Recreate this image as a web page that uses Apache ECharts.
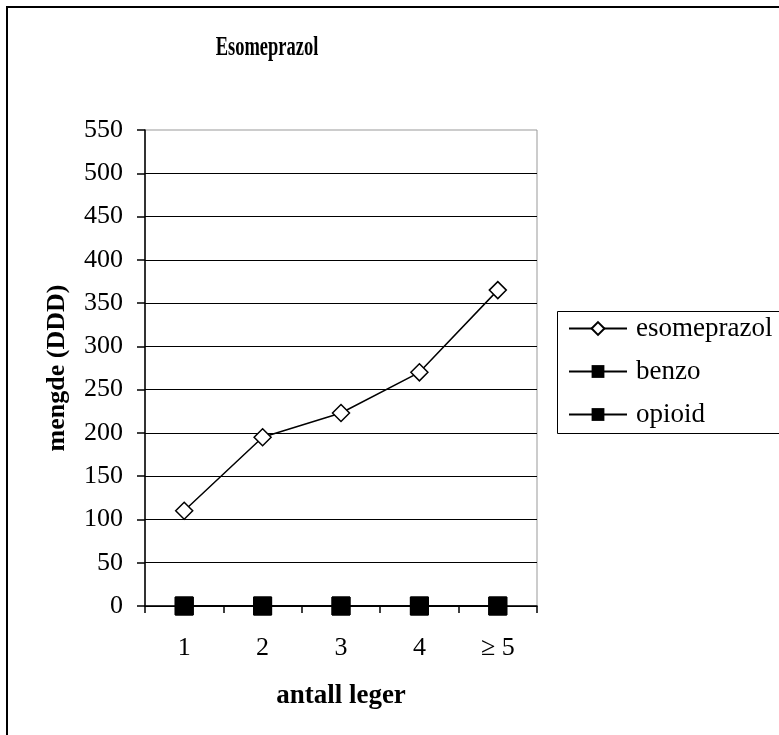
<!DOCTYPE html>
<html>
<head>
<meta charset="utf-8">
<script src="https://cdn.jsdelivr.net/npm/echarts@6/dist/echarts.min.js"></script>
<style>
html,body{margin:0;padding:0;background:#fff;}
#c{width:779px;height:735px;}
</style>
</head>
<body>
<div id="c"></div>
<script>
const categories = ['1', '2', '3', '4', '\u2265 5'];
const esomeprazol = [110, 195, 223, 270, 365];
const benzo = [0, 0, 0, 0, 0];
const opioid = [0, 0, 0, 0, 0];
const seriesNames = ['esomeprazol', 'benzo', 'opioid'];
const titleText = 'Esomeprazol';

const FONT = '"Liberation Serif", "Times New Roman", serif';
const chart = echarts.init(document.getElementById('c'), null, {renderer: 'canvas'});
chart.setOption({
  backgroundColor: '#fff',
  animation: false,
  graphic: [
    {type: 'rect', shape: {x: 7, y: 7, width: 820, height: 820}, style: {fill: 'none', stroke: '#000', lineWidth: 2}, z: 100},
    {type: 'rect', shape: {x: 557.5, y: 311.5, width: 300, height: 122}, style: {fill: '#fff', stroke: '#000', lineWidth: 1}, z: 0},
    {type: 'text', x: 267, y: 48, scaleX: 0.66, scaleY: 1,
     style: {text: titleText, fill: '#000', font: 'bold 28px ' + FONT, align: 'center', verticalAlign: 'middle'}, z: 50}
  ],
  legend: {
    orient: 'vertical',
    left: 568, top: 315,
    padding: 0,
    itemWidth: 58, itemHeight: 16,
    itemGap: 16,
    data: seriesNames,
    textStyle: {fontFamily: FONT, fontSize: 27, color: '#000', padding: [0, 0, 0, 4]},
    z: 10
  },
  grid: {
    left: 145, top: 130, width: 392, height: 476,
    show: true, borderColor: '#999', borderWidth: 1, backgroundColor: '#fff'
  },
  xAxis: {
    type: 'category',
    data: categories,
    boundaryGap: true,
    name: 'antall leger',
    nameLocation: 'middle',
    nameGap: 77,
    nameTextStyle: {fontFamily: FONT, fontWeight: 'bold', fontSize: 27, color: '#000'},
    axisLine: {lineStyle: {color: '#000', width: 1.5}},
    axisTick: {show: true, length: 7, lineStyle: {color: '#000', width: 1.5}},
    axisLabel: {fontFamily: FONT, fontSize: 26, color: '#000', margin: 29}
  },
  yAxis: {
    type: 'value',
    min: 0, max: 550, interval: 50,
    name: 'mengde (DDD)',
    nameLocation: 'middle',
    nameGap: 75,
    nameTextStyle: {fontFamily: FONT, fontWeight: 'bold', fontSize: 26, color: '#000'},
    axisLine: {show: true, lineStyle: {color: '#000', width: 1.5}},
    axisTick: {show: true, length: 8, lineStyle: {color: '#000', width: 1.5}},
    axisLabel: {fontFamily: FONT, fontSize: 26, color: '#000', margin: 22},
    splitLine: {show: true, showMaxLine: false, lineStyle: {color: '#000', width: 1.2}}
  },
  series: [
    {
      name: 'esomeprazol', type: 'line', data: esomeprazol,
      symbol: 'diamond', symbolSize: 17,
      itemStyle: {color: '#fff', borderColor: '#000', borderWidth: 1.5},
      lineStyle: {color: '#000', width: 1.5}, z: 5
    },
    {
      name: 'benzo', type: 'line', data: benzo,
      symbol: 'rect', symbolSize: 18,
      itemStyle: {color: '#000', borderColor: '#000'},
      lineStyle: {color: '#000', width: 1.5}, z: 4
    },
    {
      name: 'opioid', type: 'line', data: opioid,
      symbol: 'rect', symbolSize: 18,
      itemStyle: {color: '#000', borderColor: '#000'},
      lineStyle: {color: '#000', width: 1.5}, z: 4
    }
  ]
});
</script>
</body>
</html>
